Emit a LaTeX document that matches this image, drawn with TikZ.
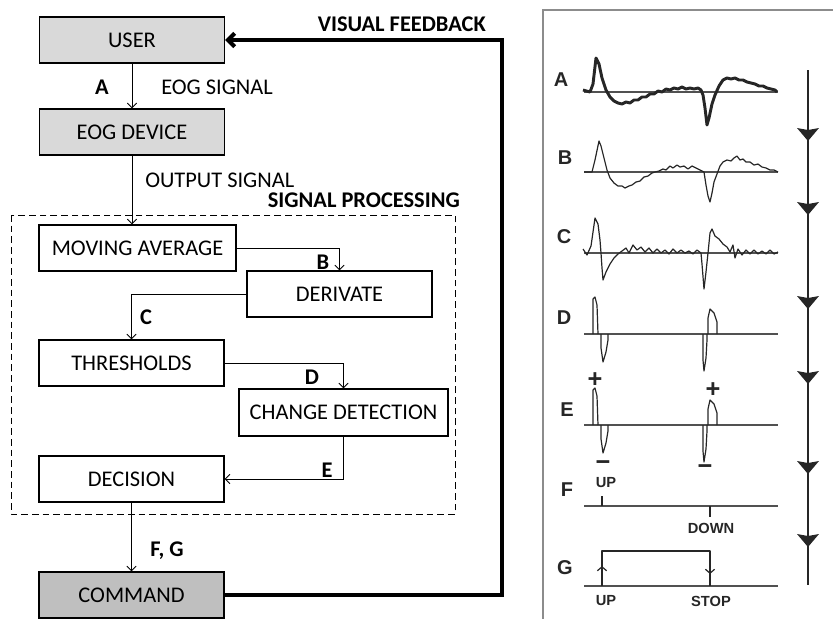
\documentclass[tikz,border=0pt]{standalone}
\usepackage{fontspec}
\setmainfont{Carlito}
\newfontfamily\tracefont{Liberation Sans}
\usetikzlibrary{arrows.meta,positioning}
\definecolor{BoxGrey}{HTML}{D9D9D9}
\definecolor{CmdGrey}{HTML}{BFBFBF}
\definecolor{Frame}{HTML}{8C8C8C}
\definecolor{Trace}{HTML}{262626}
\newcommand{\boxfont}{\fontsize{16.8}{19}\selectfont}
\newcommand{\tracelabel}[1]{\textcolor{Trace}{\tracefont\bfseries #1}}
\tikzset{
  block/.style={
    draw=black,line width=0.9pt,fill=white,
    minimum width=138.75pt,minimum height=34.5pt,inner sep=0pt,
    font=\boxfont
  },
  io/.style={block,fill=BoxGrey},
  cmd/.style={block,fill=CmdGrey},
  link/.style={-{Straight Barb[length=3.5pt,width=7pt]},line width=0.7pt},
  feedback/.style={-{Straight Barb[length=5pt,width=10pt]},line width=3pt},
  group/.style={dashed,dash pattern=on 5pt off 3pt,line width=0.7pt},
  lbl/.style={inner sep=0pt,font=\boxfont},
  tag/.style={inner sep=0pt,font=\boxfont\bfseries},
  trace/.style={draw=Trace,line width=0.9pt,line join=round},
  axisline/.style={draw=Trace!80,line width=1pt},
  tracetxt/.style={inner sep=0pt,font=\fontsize{15}{15}\selectfont},
  tracesign/.style={inner sep=0pt,font=\fontsize{19}{19}\selectfont},
  tracesmall/.style={inner sep=0pt,font=\fontsize{11}{11}\selectfont}
}

\begin{document}
\begin{tikzpicture}[x=0.75pt,y=-0.75pt]
  \useasboundingbox (0,0) rectangle (833,619);
  % flow chart
  \node[io] (user) at (132,40) {USER};
  \node[io] (eog) at (132,132) {EOG DEVICE};
  \draw[group] (11,215) rectangle (455,514);
  \node[block,minimum width=147.75pt] (mavg) at (137.5,248) {MOVING AVERAGE};
  \node[block] (deriv) at (339.5,294) {DERIVATE};
  \node[block] (thresh) at (131.5,363) {THRESHOLDS};
  \node[block,minimum width=156.75pt,minimum height=35.25pt] (change) at (343.5,412.5) {CHANGE DETECTION};
  \node[block] (decision) at (131.5,479) {DECISION};
  \node[cmd] (command) at (131.5,595) {COMMAND};

  \draw[link] (user) -- (eog);
  \draw[link] (eog.south) -- (eog.south |- mavg.north);
  \draw[link] (mavg.east) -| (deriv.north);
  \draw[link] (deriv.west) -| (thresh.north);
  \draw[link] (thresh.east) -| (change.north);
  \draw[link] (change.south) |- (decision.east);
  \draw[link] (decision) -- (command);
  \coordinate (fbcorner) at (502,40);
  \draw[feedback] (command.east) -| (fbcorner) -- (user.east);

  \node[tag] (tagA) at (102,87) {A};
  \node[lbl,anchor=west] (eogsig) at (161,87) {EOG SIGNAL};
  \node[lbl,anchor=west] (outsig) at (145,180) {OUTPUT SIGNAL};
  \node[tag,anchor=east] (sigproc) at (460,200) {SIGNAL PROCESSING};
  \node[tag] (tagB) at (323,262) {B};
  \node[tag] (tagC) at (146,317) {C};
  \node[tag] (tagD) at (312,377) {D};
  \node[tag] (tagE) at (327,470) {E};
  \node[tag] (tagFG) at (167,551) {F, G};
  \node[tag,anchor=east] (visfb) at (486,24) {VISUAL FEEDBACK};

  % signal panel
  \draw[Frame,line width=1.5pt] (833,10) -- (543,10) -- (543,619);
  \draw[Trace,line width=1.6pt] (808,70) -- (808,585);
  \foreach \t in {128,202,296,371,461,534}
    \fill[Trace] (797,\t) -- (808,\t+2) -- (819,\t) -- (808,\t+13) -- cycle;

  \node[tracetxt] (lA) at (561,80) {\tracelabel{A}};
  \node[tracetxt] (lB) at (565,158) {\tracelabel{B}};
  \node[tracetxt] (lC) at (564,237) {\tracelabel{C}};
  \node[tracetxt] (lD) at (564,318) {\tracelabel{D}};
  \node[tracetxt] (lE) at (567,410) {\tracelabel{E}};
  \node[tracetxt] (lF) at (567,490) {\tracelabel{F}};
  \node[tracetxt] (lG) at (565,568) {\tracelabel{G}};

  \foreach \b in {92,172,253,334,425,506,586}
    \draw[axisline] (584,\b) -- (778,\b);

  \draw[trace,line width=2.2pt] plot coordinates {
    (583,90) (590,92) (593,84) (596,58) (599,64) (602,78) (606,90) (610,97)
    (614,101) (618,103) (622,104) (626,102) (630,103) (634,100) (638,100)
    (642,97) (646,97) (650,94) (654,94) (658,91) (662,92) (666,89) (670,90)
    (674,88) (678,89) (682,87) (686,89) (690,88) (694,89) (698,88) (701,90)
    (703,95) (705,108) (707,125) (709,118) (712,104) (715,95) (719,86)
    (723,80) (727,78) (731,79) (735,78) (739,80) (743,80) (747,82) (751,83)
    (755,84) (759,86) (763,86) (767,88) (771,89) (775,90) (777,92)};
  \draw[trace] plot coordinates {
    (584,172) (592,172) (595,160) (599,141) (601,146) (604,158) (607,170)
    (610,178) (614,183) (618,186) (622,186) (625,188) (629,186) (632,185)
    (636,182) (640,181) (644,177) (648,176) (652,173) (655,172) (659,171)
    (663,169) (666,170) (670,166) (673,168) (677,165) (680,167) (684,166)
    (688,169) (692,166) (696,168) (700,170) (704,172) (706,185) (708,196)
    (710,202) (712,193) (714,182) (717,174) (720,166) (723,162) (727,160)
    (731,161) (734,158) (737,156) (740,160) (743,159) (746,162) (750,162)
    (754,165) (758,164) (762,167) (766,168) (770,170) (774,170) (778,172)};
  \draw[trace] plot coordinates {
    (583,249) (587,255) (591,246) (594,225) (595,218) (598,224) (600,240)
    (601,253) (602,268) (603,280) (606,272) (610,264) (614,258) (618,254)
    (622,251) (626,248) (629,253) (633,245) (637,250) (641,247) (645,252)
    (649,248) (653,253) (657,249) (661,253) (665,250) (669,254) (673,249)
    (677,253) (681,250) (685,253) (689,251) (693,254) (697,250) (701,253)
    (702,264) (704,289) (706,272) (708,253) (710,233) (712,229) (715,236)
    (719,239) (723,244) (727,247) (730,252) (733,245) (735,258) (738,249)
    (742,255) (746,250) (750,254) (754,250) (758,254) (762,251) (766,254)
    (770,250) (774,254) (778,252)};

  \foreach \s in {0,91}{
    \begin{scope}[shift={(0,\s)}]
      \draw[trace] (593,334) -- (593,299) -- (595,297) -- (597,305) -- (598,334);
      \draw[trace] (601,334) -- (601,348) -- (603,362) -- (606,352) -- (608,340) -- (608,334);
      \draw[trace] (703,334) -- (703,360) -- (704,371) -- (706,358) -- (707,340) -- (707,334);
      \draw[trace] (708,334) -- (708,318) -- (710,309) -- (714,313) -- (717,322) -- (717,334);
    \end{scope}
  }
  \node[tracesign] (plus1) at (595,380) {\tracelabel{+}};
  \node[tracesign] (plus2) at (713,390) {\tracelabel{+}};
  \node[tracesign] (minus1) at (603,466) {\tracelabel{−}};
  \node[tracesign] (minus2) at (705,470) {\tracelabel{−}};

  \draw[trace] (602,506) -- (602,496);
  \draw[trace] (710,506) -- (710,517);
  \node[tracesmall] (fup) at (606,483) {\tracelabel{UP}};
  \node[tracesmall] (fdown) at (711,528) {\tracelabel{DOWN}};

  \draw[trace] (602,586) -- (602,551) -- (710,551) -- (710,586);
  \draw[trace,-{Straight Barb[length=3pt,width=7pt]}] (602,578) -- (602,566);
  \draw[trace,-{Straight Barb[length=3pt,width=7pt]}] (710,562) -- (710,574);
  \node[tracesmall] (gup) at (606,601) {\tracelabel{UP}};
  \node[tracesmall] (gstop) at (711,601) {\tracelabel{STOP}};
\end{tikzpicture}
\end{document}
